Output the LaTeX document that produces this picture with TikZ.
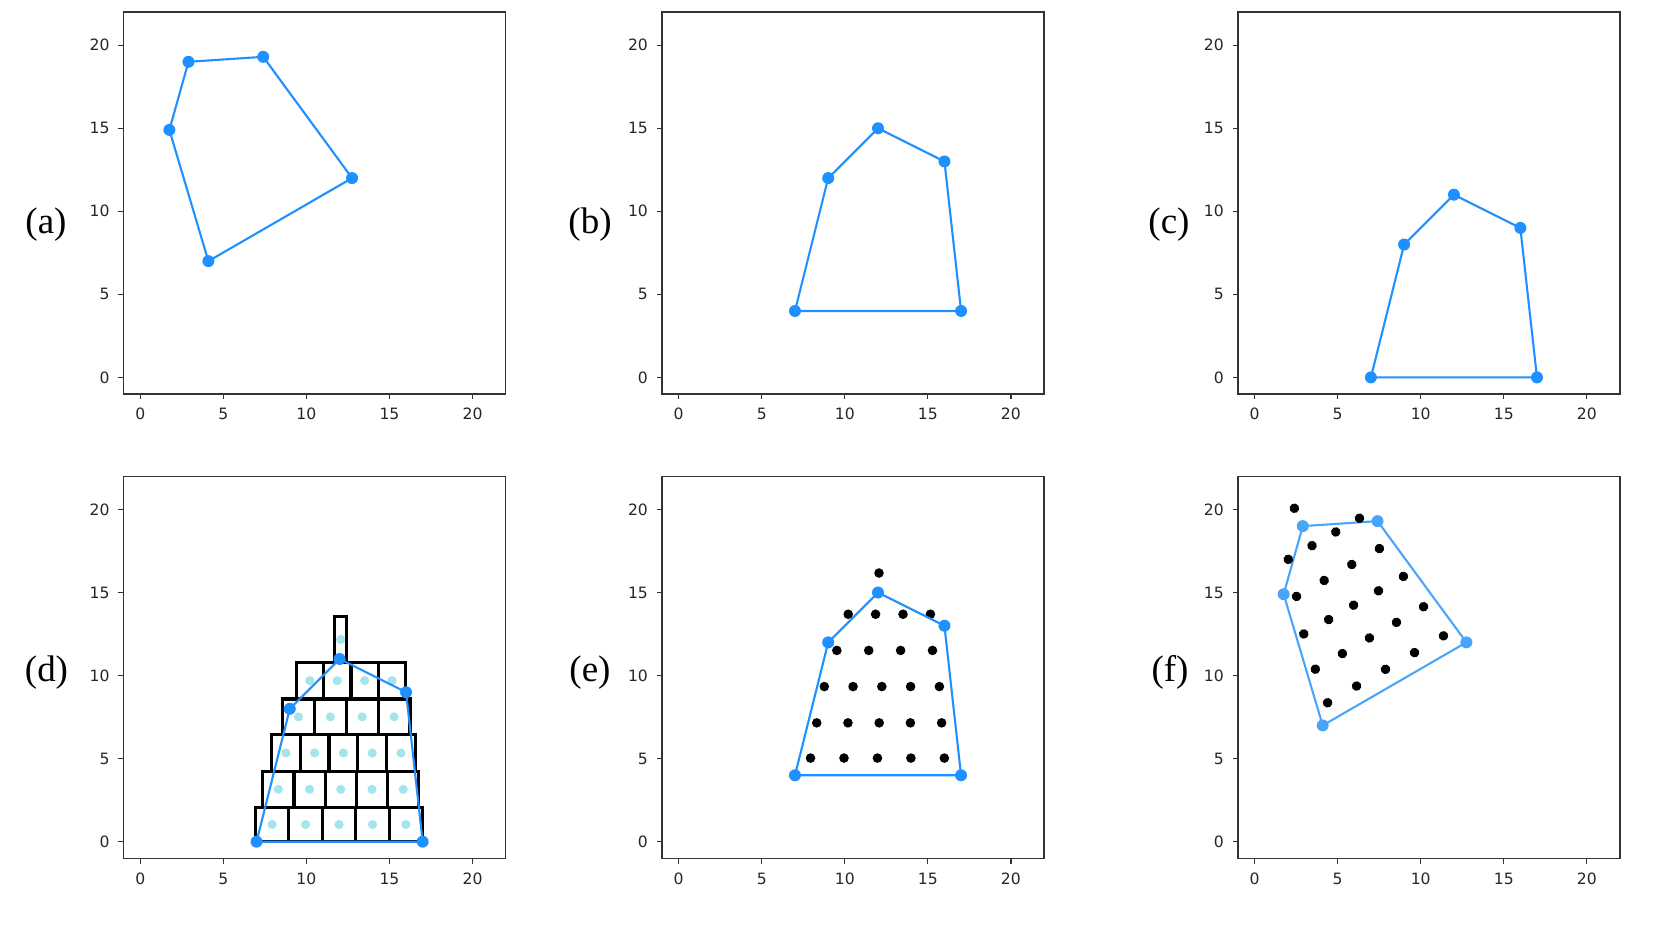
\documentclass[tikz,border=0pt]{standalone}
\usepackage{fontspec}
\setmainfont{Liberation Serif}
\newfontfamily\tickfont{DejaVu Sans}
\definecolor{polyblue}{HTML}{1E90FF}
\definecolor{polyblueF}{HTML}{4AA5FA}
\definecolor{dotcyan}{RGB}{166,228,236}
\definecolor{axisgray}{HTML}{333333}
\tikzset{
  frame/.style={draw=axisgray, line width=0.65pt},
  tickmark/.style={draw=axisgray, line width=0.6pt},
  ticklab/.style={font=\tickfont\fontsize{7.8}{9}\selectfont, text=black!85, inner sep=0pt},
  panellab/.style={font=\fontsize{18.5}{20}\selectfont, inner sep=0pt},
  hull/.style={draw=polyblue, line width=1.05pt, line join=round},
  hullF/.style={draw=polyblueF, line width=1.05pt, line join=round},
  vtx/.style={fill=polyblue},
  vtxF/.style={fill=polyblueF},
  bdot/.style={fill=black},
  cdot/.style={fill=dotcyan},
  cell/.style={draw=black, line width=1.6pt},
}
\newcommand\cakerows{0/2.07/6.93/17.0/5, 2.07/4.24/7.37/16.77/5, 4.24/6.44/7.9/16.56/5, 6.44/8.59/8.56/16.24/4, 8.59/10.8/9.38/15.98/4, 10.8/13.55/11.69/12.43/1}
\newcommand\panelaxes[1]{%
  \draw[frame] (-1,-1) rectangle (22,22);
  \foreach \v in {0,5,10,15,20}{%
    \draw[tickmark] (\v,-1) -- ++(0,-2.6pt);
    \node[ticklab, anchor=north] (#1x\v) at ([yshift=-7pt]\v,-1) {\v};
    \draw[tickmark] (-1,\v) -- ++(-2.6pt,0);
    \node[ticklab, anchor=east] (#1y\v) at ([xshift=-6.9pt]-1,\v) {\v};
  }%
}
\newcommand\cakecells{%
  \foreach \rb/\rt/\rl/\rr/\rn in \cakerows {%
    \pgfmathsetmacro\cw{(\rr-\rl)/\rn}%
    \foreach \ci in {1,...,\rn}{%
      \draw[cell] ({\rl+(\ci-1)*\cw},\rb) rectangle ({\rl+\ci*\cw},\rt);
    }%
  }%
}
\newcommand\cakedots[3]{%
  \foreach \rb/\rt/\rl/\rr/\rn in \cakerows {%
    \pgfmathsetmacro\cw{(\rr-\rl)/\rn}%
    \foreach \ci in {1,...,\rn}{%
      \fill[#2] ({\rl+(\ci-0.5)*\cw},{(\rb+\rt)/2+#1}) circle[radius=#3];
    }%
  }%
}
\begin{document}
\begin{tikzpicture}[x=0.5pt,y=0.5pt]
\useasboundingbox (0,0) rectangle (1661,934);

% panel labels
\node[panellab] (la) at (46,709.5) {(a)};
\node[panellab] (lb) at (590,709.5) {(b)};
\node[panellab] (lc) at (1169,709.5) {(c)};
\node[panellab] (ld) at (46.5,261.5) {(d)};
\node[panellab] (le) at (590,261.5) {(e)};
\node[panellab] (lf) at (1170,261.5) {(f)};

% (a)
\begin{scope}[shift={(140.3,556.6)}, x=8.305pt, y=8.305pt]
  \panelaxes{a}
  \coordinate (a1) at (4.1,7);
  \coordinate (a2) at (1.75,14.9);
  \coordinate (a3) at (2.9,19);
  \coordinate (a4) at (7.4,19.3);
  \coordinate (a5) at (12.75,12);
  \draw[hull] (a1) -- (a2) -- (a3) -- (a4) -- (a5) -- cycle;
  \foreach \p in {a1,a2,a3,a4,a5} \fill[vtx] (\p) circle[radius=3pt];
\end{scope}

% (b)
\begin{scope}[shift={(678.7,556.6)}, x=8.305pt, y=8.305pt]
  \panelaxes{b}
  \coordinate (b1) at (7,4);
  \coordinate (b2) at (9,12);
  \coordinate (b3) at (12,15);
  \coordinate (b4) at (16,13);
  \coordinate (b5) at (17,4);
  \draw[hull] (b1) -- (b2) -- (b3) -- (b4) -- (b5) -- cycle;
  \foreach \p in {b1,b2,b3,b4,b5} \fill[vtx] (\p) circle[radius=3pt];
\end{scope}

% (c)
\begin{scope}[shift={(1254.6,556.6)}, x=8.305pt, y=8.305pt]
  \panelaxes{c}
  \coordinate (c1) at (7,0);
  \coordinate (c2) at (9,8);
  \coordinate (c3) at (12,11);
  \coordinate (c4) at (16,9);
  \coordinate (c5) at (17,0);
  \draw[hull] (c1) -- (c2) -- (c3) -- (c4) -- (c5) -- cycle;
  \foreach \p in {c1,c2,c3,c4,c5} \fill[vtx] (\p) circle[radius=3pt];
\end{scope}

% (d)
\begin{scope}[shift={(140.3,92.3)}, x=8.305pt, y=8.305pt]
  \panelaxes{d}
  \cakecells
  \cakedots{0}{cdot}{2.3pt}
  \coordinate (d1) at (7,0);
  \coordinate (d2) at (9,8);
  \coordinate (d3) at (12,11);
  \coordinate (d4) at (16,9);
  \coordinate (d5) at (17,0);
  \draw[hull] (d1) -- (d2) -- (d3) -- (d4) -- (d5) -- cycle;
  \foreach \p in {d1,d2,d3,d4,d5} \fill[vtx] (\p) circle[radius=3pt];
\end{scope}

% (e)
\begin{scope}[shift={(678.7,92.3)}, x=8.305pt, y=8.305pt]
  \panelaxes{e}
  \cakedots{4}{bdot}{2.4pt}
  \coordinate (e1) at (7,4);
  \coordinate (e2) at (9,12);
  \coordinate (e3) at (12,15);
  \coordinate (e4) at (16,13);
  \coordinate (e5) at (17,4);
  \draw[hull] (e1) -- (e2) -- (e3) -- (e4) -- (e5) -- cycle;
  \foreach \p in {e1,e2,e3,e4,e5} \fill[vtx] (\p) circle[radius=3pt];
\end{scope}

% (f)
\begin{scope}[shift={(1254.6,92.3)}, x=8.305pt, y=8.305pt]
  \panelaxes{f}
  \coordinate (f1) at (4.1,7);
  \coordinate (f2) at (1.75,14.9);
  \coordinate (f3) at (2.9,19);
  \coordinate (f4) at (7.4,19.3);
  \coordinate (f5) at (12.75,12);
  \draw[hullF] (f1) -- (f2) -- (f3) -- (f4) -- (f5) -- cycle;
  \foreach \p in {f1,f2,f3,f4,f5} \fill[vtxF] (\p) circle[radius=3pt];
  \begin{scope}[shift={(4.1,7)}, rotate=30, shift={(-7,-4)}]
    \cakedots{4}{bdot}{2.4pt}
  \end{scope}
\end{scope}
\end{tikzpicture}
\end{document}
